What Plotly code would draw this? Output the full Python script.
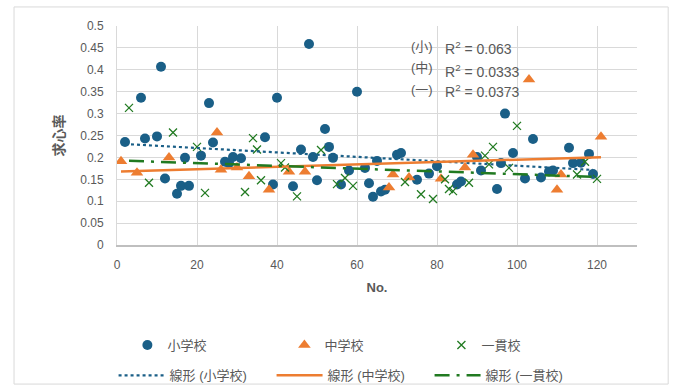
import numpy as np
import plotly.graph_objects as go

# ---- data ----
elem_x = [2, 6, 7, 10, 11, 12, 15, 16, 17, 18, 21, 23, 24, 27, 28, 29, 31, 37, 39, 40,
          44, 46, 48, 49, 50, 52, 53, 54, 56, 58, 60, 62, 63, 64, 65, 66, 67, 70, 71, 75,
          78, 80, 85, 86, 90, 91, 95, 96, 97, 99, 102, 104, 106, 108, 109, 113, 114, 116, 118, 119]
elem_y = [0.235, 0.336, 0.243, 0.248, 0.407, 0.152, 0.117, 0.135, 0.199, 0.135, 0.204, 0.324, 0.234, 0.190, 0.187, 0.201, 0.198, 0.246, 0.138, 0.336,
          0.134, 0.218, 0.459, 0.201, 0.148, 0.265, 0.224, 0.199, 0.138, 0.170, 0.350, 0.176, 0.141, 0.110, 0.192, 0.122, 0.126, 0.206, 0.210, 0.149,
          0.163, 0.180, 0.138, 0.145, 0.201, 0.170, 0.128, 0.187, 0.300, 0.210, 0.152, 0.242, 0.154, 0.168, 0.170, 0.222, 0.187, 0.188, 0.208, 0.162]

jhs_x = [1, 5, 13, 25, 26, 30, 33, 38, 43, 47, 68, 69, 73, 81, 87, 89, 103, 110, 111, 121]
jhs_y = [0.191, 0.165, 0.200, 0.257, 0.172, 0.177, 0.157, 0.126, 0.167, 0.167,
         0.131, 0.161, 0.154, 0.151, 0.177, 0.206, 0.378, 0.126, 0.161, 0.247]

comb_x = [3, 8, 14, 20, 22, 32, 34, 35, 36, 41, 42, 45, 51, 55, 57, 59, 72, 76, 79, 82,
          83, 84, 88, 92, 93, 94, 98, 100, 115, 117, 120]
comb_y = [0.313, 0.142, 0.257, 0.224, 0.119, 0.121, 0.244, 0.218, 0.148, 0.187, 0.177, 0.111, 0.217, 0.139, 0.153, 0.135, 0.144, 0.116, 0.105, 0.150,
          0.128, 0.123, 0.142, 0.204, 0.184, 0.224, 0.176, 0.272, 0.161, 0.190, 0.151]

names = ["小学校", "中学校", "一貫校"]
trend_names = ["線形 (小学校)", "線形 (中学校)", "線形 (一貫校)"]
r2_labels = ["(小)", "(中)", "(一)"]
r2_texts = ["R<sup>2</sup> = 0.063", "R<sup>2</sup> = 0.0333", "R<sup>2</sup> = 0.0373"]
x_ticks = [0, 20, 40, 60, 80, 100, 120]
y_ticks = [0, 0.05, 0.1, 0.15, 0.2, 0.25, 0.3, 0.35, 0.4, 0.45, 0.5]

BLUE = "#1a5f87"
ORANGE = "#ed7d31"
GREEN = "#217a21"
GRAY = "#595959"
FONT = "Liberation Sans, Noto Sans CJK JP, sans-serif"

fig = go.Figure()

fig.add_trace(go.Scatter(x=elem_x, y=elem_y, mode="markers", name=names[0],
                         marker=dict(symbol="circle", size=10, color=BLUE), legend="legend"))
fig.add_trace(go.Scatter(x=jhs_x, y=jhs_y, mode="markers", name=names[1],
                         marker=dict(symbol="triangle-up", size=11, color=ORANGE), legend="legend"))
fig.add_trace(go.Scatter(x=comb_x, y=comb_y, mode="markers", name=names[2],
                         marker=dict(symbol="x-thin", size=8, color=GREEN,
                                     line=dict(width=1.3, color=GREEN)), legend="legend"))

def trend(xs, ys):
    xs = np.asarray(xs, float)
    ys = np.asarray(ys, float)
    k, b = np.polyfit(xs, ys, 1)
    xx = np.array([xs.min(), xs.max()])
    return xx, k * xx + b

for (xs, ys), nm, col, dash, w in [((elem_x, elem_y), trend_names[0], BLUE, "dot", 2.2),
                                    ((jhs_x, jhs_y), trend_names[1], ORANGE, "solid", 2.5),
                                    ((comb_x, comb_y), trend_names[2], GREEN, "15px,7px,3px,7px", 2.5)]:
    tx, ty = trend(xs, ys)
    fig.add_trace(go.Scatter(x=tx, y=ty, mode="lines", name=nm,
                             line=dict(color=col, dash=dash, width=w), legend="legend2"))

# R^2 annotations
r2_y = [0.449, 0.397, 0.352]
lab_y = [0.454, 0.405, 0.354]
for lab, txt, yy, ly in zip(r2_labels, r2_texts, r2_y, lab_y):
    fig.add_annotation(x=79.5, y=ly, xref="x", yref="y", text=lab, showarrow=False,
                       xanchor="right", font=dict(size=13, color=GRAY, family=FONT))
    fig.add_annotation(x=81.5, y=yy, xref="x", yref="y", text=txt, showarrow=False,
                       xanchor="left", font=dict(size=14, color=GRAY, family=FONT))

# outer chart border
fig.add_shape(type="rect", xref="paper", yref="paper",
              x0=-0.198, x1=1.06, y0=-0.635, y1=1.087,
              line=dict(color="#d9d9d9", width=1), fillcolor="rgba(0,0,0,0)", layer="below")

fig.update_layout(
    width=676, height=387,
    margin=dict(l=117, r=39, t=26, b=142),
    paper_bgcolor="white", plot_bgcolor="white",
    font=dict(family=FONT, color=GRAY, size=12),
    showlegend=True,
    legend=dict(orientation="h", x=0.02, xanchor="left", yref="container", y=0.1085, yanchor="middle",
                entrywidth=112, font=dict(size=13, color=GRAY), bgcolor="rgba(0,0,0,0)"),
    legend2=dict(orientation="h", xref="container", x=0.168, xanchor="left", yref="container", y=0.03,
                 yanchor="middle", itemwidth=46, entrywidth=97,
                 font=dict(size=13, color=GRAY), bgcolor="rgba(0,0,0,0)"),
)

fig.update_xaxes(range=[0, 130], tickvals=x_ticks, showgrid=True, gridcolor="#d9d9d9",
                 gridwidth=1, zeroline=False, showline=True, linecolor="#bfbfbf", linewidth=1.5,
                 ticks="", ticklabelstandoff=8, tickfont=dict(size=12, color=GRAY),
                 title=dict(text="<b>No.</b>", font=dict(size=13, color=GRAY), standoff=12))
fig.update_yaxes(range=[0, 0.5], tickvals=y_ticks, showgrid=True, gridcolor="#d9d9d9",
                 gridwidth=1, zeroline=False, showline=True, linecolor="#d9d9d9", linewidth=1,
                 ticks="", ticklabelstandoff=10, tickfont=dict(size=12, color=GRAY),
                 title=dict(text="<b>求心率</b>", font=dict(size=14, color=GRAY), standoff=12))

fig.write_html("out.html")
